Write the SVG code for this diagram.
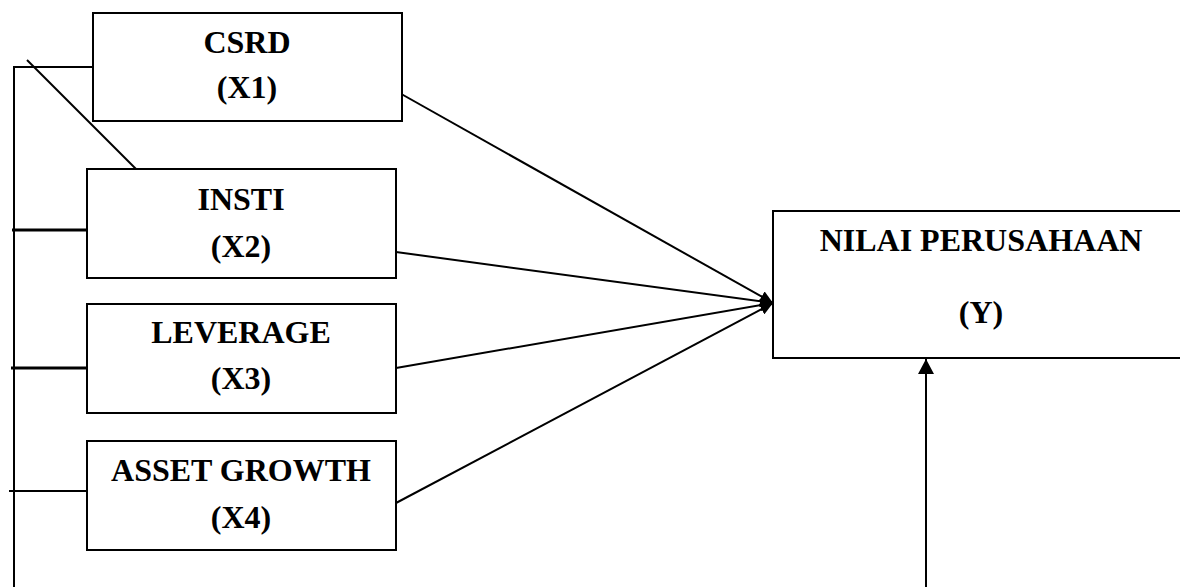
<svg xmlns="http://www.w3.org/2000/svg" width="1180" height="587" viewBox="0 0 1180 587">
<style>
.box{fill:#fff;stroke:#000;stroke-width:2}
.t{font-family:"Liberation Serif","Times New Roman",serif;font-weight:bold;font-size:32px;fill:#000;text-anchor:middle}
.c{stroke:#000;stroke-width:2;fill:none}
.ct{stroke:#000;stroke-width:2.8;fill:none}
</style>
<defs>
<marker id="ah" viewBox="0 0 13 12" refX="13" refY="6" markerWidth="13" markerHeight="12" markerUnits="userSpaceOnUse" orient="auto">
<path d="M0,0 L13,6 L0,12 Z" fill="#000"/>
</marker>
<marker id="ahv" viewBox="0 0 16 16" refX="15" refY="8" markerWidth="16" markerHeight="16" markerUnits="userSpaceOnUse" orient="auto">
<path d="M0,0 L15,8 L0,16 Z" fill="#000"/>
</marker>
</defs>
<rect width="1180" height="587" fill="#fff"/>
<g id="connectors">
<polyline class="c" points="14,587 14,67 93,67"/>
<line class="c" x1="27" y1="60" x2="136" y2="169"/>
<line class="ct" x1="12" y1="230" x2="92" y2="230"/>
<line class="ct" x1="11" y1="368" x2="90" y2="368"/>
<line class="c" x1="9" y1="491" x2="89" y2="491"/>
<line class="c" x1="396" y1="91" x2="773" y2="303" marker-end="url(#ah)"/>
<line class="c" x1="396" y1="252" x2="773" y2="303" marker-end="url(#ah)"/>
<line class="c" x1="396" y1="368" x2="773" y2="303" marker-end="url(#ah)"/>
<line class="c" x1="396" y1="503" x2="773" y2="303" marker-end="url(#ah)"/>
<line class="c" x1="926" y1="587" x2="926" y2="359" marker-end="url(#ahv)"/>
</g>
<g id="csrd">
<rect class="box" x="93" y="13" width="309" height="108"/>
<text class="t" x="247" y="53">CSRD</text>
<text class="t" x="247" y="98">(X1)</text>
</g>
<g id="insti">
<rect class="box" x="87" y="169" width="309" height="109"/>
<text class="t" x="241" y="210">INSTI</text>
<text class="t" x="241" y="257">(X2)</text>
</g>
<g id="leverage">
<rect class="box" x="87" y="304" width="309" height="109"/>
<text class="t" x="241" y="343">LEVERAGE</text>
<text class="t" x="241" y="389">(X3)</text>
</g>
<g id="asset">
<rect class="box" x="87" y="441" width="309" height="109"/>
<text class="t" x="241" y="481">ASSET GROWTH</text>
<text class="t" x="241" y="528">(X4)</text>
</g>
<g id="nilai">
<rect class="box" x="773" y="211" width="420" height="147"/>
<text class="t" x="981" y="251">NILAI PERUSAHAAN</text>
<text class="t" x="981" y="323">(Y)</text>
</g>
</svg>
